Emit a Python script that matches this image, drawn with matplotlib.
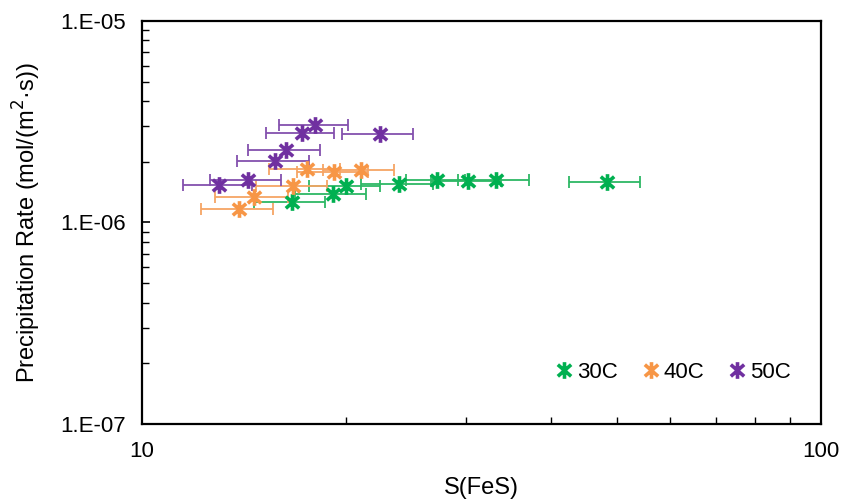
import matplotlib.pyplot as plt
import numpy as np
from matplotlib.path import Path

plt.rcParams['font.family'] = ['Liberation Sans', 'DejaVu Sans']

# S(FeS) values, precipitation rates and x error
s_30 = [16.6, 19.1, 20.0, 23.9, 27.2, 30.2, 33.2, 48.4]
r_30 = [1.26e-6, 1.38e-6, 1.51e-6, 1.55e-6, 1.63e-6, 1.60e-6, 1.63e-6, 1.58e-6]
e_30 = [2.0, 2.3, 2.4, 2.9, 2.7, 3.6, 4.0, 5.8]

s_40 = [13.9, 14.6, 16.7, 17.5, 19.2, 21.0]
r_40 = [1.16e-6, 1.34e-6, 1.51e-6, 1.85e-6, 1.78e-6, 1.83e-6]
e_40 = [1.7, 1.8, 2.0, 2.1, 2.3, 2.5]

s_50 = [13.0, 14.3, 15.7, 16.3, 17.2, 18.0, 22.4]
r_50 = [1.53e-6, 1.63e-6, 2.03e-6, 2.28e-6, 2.79e-6, 3.03e-6, 2.76e-6]
e_50 = [1.5, 1.7, 1.9, 2.0, 2.0, 2.1, 2.7]

labels = ['30C', '40C', '50C']
COLORS = ['#00B050', '#F79646', '#7030A0']
BAR_COLORS = ['#2DB865', '#F6A564', '#8450AE']

# star marker like Excel: vertical bar plus an x
star = Path(
    [(0, -1), (0, 1), (-0.8, -0.7), (0.8, 0.7), (-0.8, 0.7), (0.8, -0.7)],
    [Path.MOVETO, Path.LINETO, Path.MOVETO, Path.LINETO, Path.MOVETO, Path.LINETO],
)

fig = plt.figure(figsize=(8.43, 4.99), dpi=100)
ax = fig.add_axes([0.1685, 0.1503, 0.8055, 0.8077])

series = [(s_30, r_30, e_30), (s_40, r_40, e_40), (s_50, r_50, e_50)]
for (s, r, e), lab, c, bc in zip(series, labels, COLORS, BAR_COLORS):
    ax.errorbar(s, r, xerr=e, fmt='none', ecolor=bc, elinewidth=1.3,
                capsize=4.5, capthick=1.3, zorder=2)
    ax.plot(s, r, linestyle='none', marker=star, markersize=12,
            markeredgewidth=2.6, color=c, label=lab, zorder=3)

ax.set_xscale('log')
ax.set_yscale('log')
ax.set_xlim(10, 100)
ax.set_ylim(1e-7, 1e-5)

ax.set_yticks([1e-7, 1e-6, 1e-5])
ax.set_yticklabels(['1.E-07', '1.E-06', '1.E-05'])
ax.set_xticks([10, 100])
ax.set_xticklabels(['10', '100'])

ax.tick_params(which='both', direction='in', labelsize=16, color='black')
ax.tick_params(which='major', length=6, width=1.2, pad=12)
ax.tick_params(which='minor', length=5, width=1.0)
ax.tick_params(axis='x', which='minor', labelbottom=False)

for sp in ax.spines.values():
    sp.set_linewidth(1.6)
    sp.set_color('black')

ax.set_xlabel('S(FeS)', fontsize=17, labelpad=11)
ax.set_ylabel('Precipitation Rate (mol/(m$^{2}$·s))', fontsize=17, labelpad=12)

ax.legend(loc='center right', ncol=3, frameon=False, fontsize=16,
          handlelength=0.8, handletextpad=0.2, columnspacing=1.05,
          bbox_to_anchor=(0.985, 0.129))

fig.savefig('out.png', dpi=100)
